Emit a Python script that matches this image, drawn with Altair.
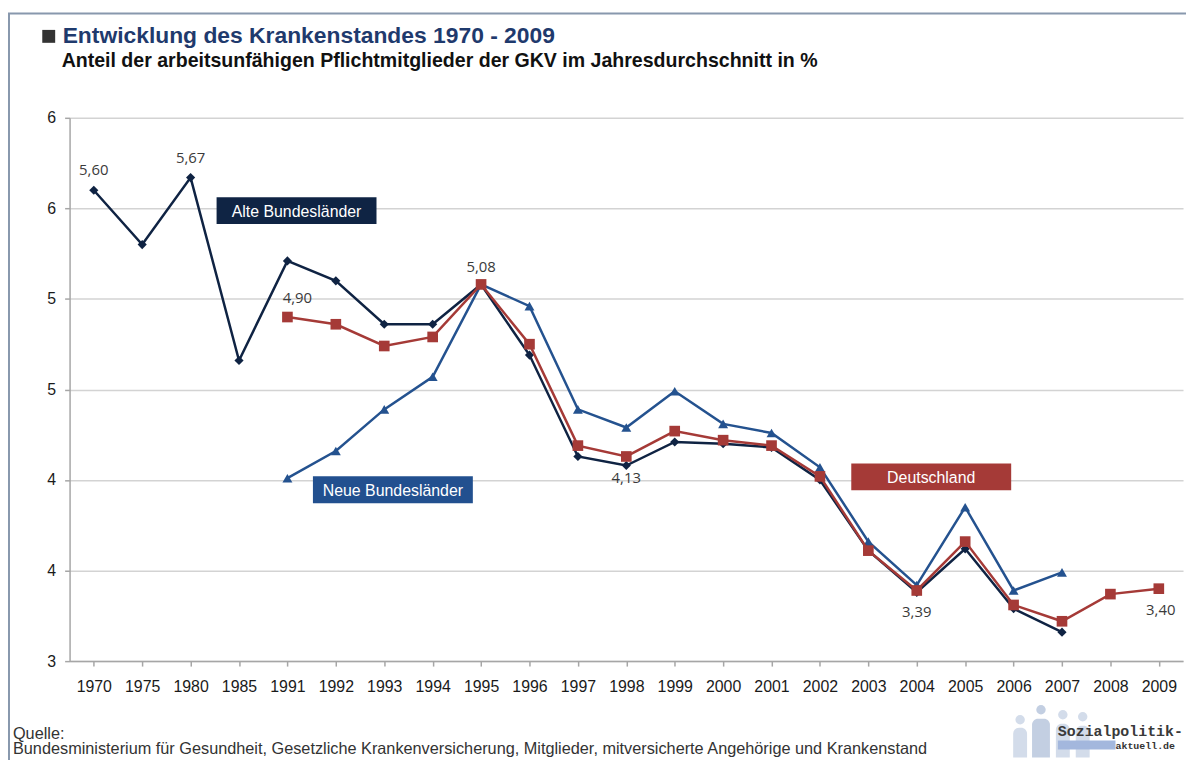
import altair as alt
import pandas as pd

# ---------------- data ----------------
years = ["1970", "1975", "1980", "1985", "1991", "1992", "1993", "1994", "1995", "1996",
         "1997", "1998", "1999", "2000", "2001", "2002", "2003", "2004", "2005", "2006",
         "2007", "2008", "2009"]

alte_years = years[:21]
alte_values = [5.60, 5.30, 5.67, 4.66, 5.21, 5.10, 4.86, 4.86, 5.08, 4.69,
               4.13, 4.08, 4.21, 4.20, 4.18, 4.00, 3.61, 3.38, 3.62, 3.29, 3.16]

neue_years = years[4:21]
neue_values = [4.01, 4.16, 4.39, 4.57, 5.08, 4.96, 4.39, 4.29, 4.49, 4.31,
               4.26, 4.07, 3.66, 3.42, 3.85, 3.39, 3.49]

de_years = years[4:]
de_values = [4.90, 4.86, 4.74, 4.79, 5.08, 4.75, 4.19, 4.13, 4.27, 4.22,
             4.19, 4.02, 3.61, 3.39, 3.66, 3.31, 3.22, 3.37, 3.40]

series_names = ["Alte Bundesländer", "Neue Bundesländer", "Deutschland"]

label_series = ["Alte Bundesländer", "Alte Bundesländer", "Deutschland", "Deutschland",
                "Alte Bundesländer", "Deutschland", "Deutschland"]
label_years = ["1970", "1980", "1991", "1995", "1998", "2004", "2009"]
label_texts = ["5,60", "5,67", "4,90", "5,08", "4,13", "3,39", "3,40"]

y_ticks = [3, 3.5, 4, 4.5, 5, 5.5, 6]

title_text = "Entwicklung des Krankenstandes 1970 - 2009"
subtitle_text = "Anteil der arbeitsunfähigen Pflichtmitglieder der GKV im Jahresdurchschnitt in %"
source_head = "Quelle:"
source_text = ("Bundesministerium für Gesundheit, Gesetzliche Krankenversicherung, Mitglieder, "
               "mitversicherte Angehörige und Krankenstand")
logo_main = "Sozialpolitik-"
logo_sub = "aktuell.de"

# ---------------- tables ----------------
rows = []
for name, ys, vs in [(series_names[0], alte_years, alte_values),
                     (series_names[1], neue_years, neue_values),
                     (series_names[2], de_years, de_values)]:
    for yr, v in zip(ys, vs):
        rows.append({"series": name, "year": yr, "value": v})
df = pd.DataFrame(rows)

lookup = {(r["series"], r["year"]): r["value"] for r in rows}
lab_df = pd.DataFrame({
    "series": label_series,
    "year": label_years,
    "text": label_texts,
    "value": [lookup[(s, y)] for s, y in zip(label_series, label_years)],
})

FONT = "Liberation Sans"

x_axis = alt.Axis(labelFont=FONT, labelFontSize=16, labelColor="#1a1a1a", labelAngle=0,
                  labelPadding=13, tickSize=5, tickColor="#a6a6a6", domainColor="#a6a6a6",
                  domainWidth=1.5, tickWidth=1.5, grid=False, title=None, labelOverlap=False)
y_axis = alt.Axis(values=y_ticks, format=".0f", labelFont=FONT, labelFontSize=16,
                  labelColor="#1a1a1a", labelPadding=9, tickSize=5, tickColor="#a6a6a6",
                  tickWidth=1.5, domainColor="#a6a6a6", domainWidth=1.5, grid=True,
                  gridColor="#d3d3d3", gridWidth=1.5, title=None)

X = alt.X("year:N", scale=alt.Scale(type="point", domain=years, padding=0.5), axis=x_axis)
Y = alt.Y("value:Q", scale=alt.Scale(domain=[3, 6], nice=False, zero=False), axis=y_axis)


def series_layer(name, color, shape, size):
    base = alt.Chart(df).transform_filter(alt.datum.series == name)
    line = base.mark_line(color=color, strokeWidth=2.5).encode(x=X, y=Y)
    pts = base.mark_point(shape=shape, size=size, filled=True, color=color,
                          opacity=1).encode(x=X, y=Y)
    return [line, pts]


def value_label(i, dx, dy):
    return alt.Chart(lab_df.iloc[[i]]).mark_text(
        dx=dx, dy=dy, font="Open Sans", fontSize=15, color="#3a3a3a", baseline="middle"
    ).encode(x=X, y=Y, text="text:N")


def one(text):
    return pd.DataFrame({"t": [text]})


def box(text, x0, x1, y0, y1, color):
    d = one(text)
    r = alt.Chart(d).mark_rect(color=color).encode(
        x=alt.value(x0), x2=alt.value(x1), y=alt.value(y0), y2=alt.value(y1))
    t = alt.Chart(d).mark_text(color="white", font=FONT, fontSize=16, baseline="middle",
                               align="center").encode(
        x=alt.value((x0 + x1) / 2), y=alt.value((y0 + y1) / 2 + 1), text="t:N")
    return [r, t]


def free_text(text, x, y, size, color, weight="normal", align="left", font=FONT,
              baseline="alphabetic"):
    return alt.Chart(one(text)).mark_text(
        font=font, fontSize=size, fontWeight=weight, color=color, align=align,
        baseline=baseline).encode(x=alt.value(x), y=alt.value(y), text="t:N")


def figure(cx, head_y, body_top, half_w, color):
    d = one("p")
    body = alt.Chart(d).mark_rect(color=color, cornerRadiusTopLeft=6,
                                  cornerRadiusTopRight=6).encode(
        x=alt.value(cx - half_w), x2=alt.value(cx + half_w),
        y=alt.value(body_top), y2=alt.value(644))
    head = alt.Chart(d).mark_circle(size=90, color=color, opacity=1).encode(
        x=alt.value(cx), y=alt.value(head_y))
    return [body, head]


layers = []
# frame
layers.append(alt.Chart(one("f")).mark_rule(color="#8898ad", strokeWidth=2).encode(
    x=alt.value(-61), y=alt.value(-105), y2=alt.value(660)))
layers.append(alt.Chart(one("f")).mark_rule(color="#8898ad", strokeWidth=2).encode(
    x=alt.value(-62), x2=alt.value(1130), y=alt.value(-105)))

# series
layers += series_layer("Neue Bundesländer", "#24528f", "triangle-up", 100)
layers += series_layer("Alte Bundesländer", "#0f2343", "diamond", 85)
layers += series_layer("Deutschland", "#a53a37", "square", 115)

# value labels
offsets = [(0, -20), (0, -20), (10, -19), (0, -18), (0, 13), (0, 22), (2, 22)]
for i, (dx, dy) in enumerate(offsets):
    layers.append(value_label(i, dx, dy))

# annotation boxes
layers += box("Alte Bundesländer", 148, 309, 80, 107, "#0f2444")
layers += box("Neue Bundesländer", 245, 406, 361, 388, "#22508f")
layers += box("Deutschland", 787, 948, 348, 375, "#a53a37")

# title block
layers.append(alt.Chart(one("sq")).mark_square(size=169, color="#333333", opacity=1).encode(
    x=alt.value(-21), y=alt.value(-82)))
layers.append(free_text(title_text, -7, -75, 23, "#1f3a6d", weight="bold"))
layers.append(free_text(subtitle_text, -8, -51, 19.7, "#111111", weight="bold"))

# source
layers.append(free_text(source_head, -57, 625, 16.4, "#333333"))
layers.append(free_text(source_text, -57, 641, 16.4, "#333333"))

# logo (stylised figures, bar and text)
layers += figure(957, 606, 614, 7, "#d3dcea")
layers += figure(1000, 601, 610, 7, "#d3dcea")
layers += figure(978, 596, 605, 9, "#c3cfe2")
layers += figure(1020, 603, 612, 7, "#d3dcea")
layers.append(alt.Chart(one("bar")).mark_rect(color="#a3b7dd").encode(
    x=alt.value(995), x2=alt.value(1053), y=alt.value(627), y2=alt.value(636)))
layers.append(free_text(logo_main, 995, 617, 15, "#3a3a3a", weight="bold",
                        font="Liberation Mono", baseline="middle"))
layers.append(free_text(logo_sub, 1053, 632, 10, "#333333", weight="bold",
                        font="Liberation Mono", baseline="middle"))

chart = alt.layer(*layers).properties(
    width=1121, height=547,
    padding={"left": 62, "top": 108, "right": 3, "bottom": 97},
    autosize=alt.AutoSizeParams(type="none"),
    background="white",
).configure_view(stroke=None)

chart.save("out.html", embed_options={"renderer": "svg", "actions": False})
